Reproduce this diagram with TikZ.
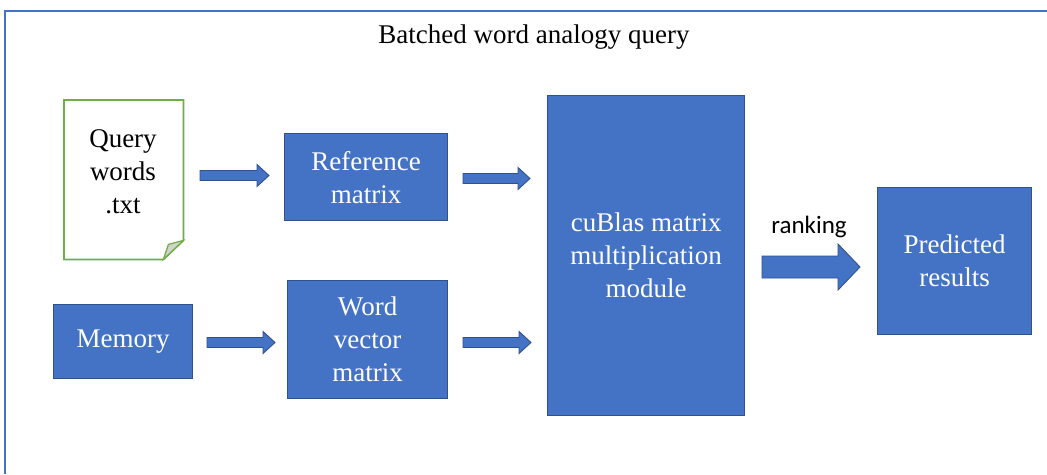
\documentclass[tikz,border=0pt]{standalone}
\usepackage{fontspec}
\setmainfont{Liberation Serif}
\newfontfamily\tnr{Liberation Serif}
\newfontfamily\calib{Carlito}
\usetikzlibrary{calc}
\definecolor{boxblue}{HTML}{4472C4}
\definecolor{boxedge}{HTML}{2F528F}
\definecolor{docgreen}{HTML}{70AD47}
\definecolor{flapgray}{HTML}{D0D3CE}
\tikzset{
  bigtext/.style={font=\tnr\fontsize{27}{33}\selectfont},
  bluebox/.style={draw=boxedge, line width=1.3pt, fill=boxblue, text=white, bigtext,
    align=center, inner sep=0pt, anchor=north west},
  blk/.style={draw=boxedge, line width=0.9pt, fill=boxblue, line join=miter},
}
% #1 start, #2 tip, #3 shaft half height, #4 head half height, #5 head length
\newcommand\blkarrow[5]{%
  \draw[blk] ($(#1)+(0,-#3)$) -- ($(#2)+(-#5,-#3)$) -- ($(#2)+(-#5,-#4)$) -- (#2)
    -- ($(#2)+(-#5,#4)$) -- ($(#2)+(-#5,#3)$) -- ($(#1)+(0,#3)$) -- cycle;}
\begin{document}
\begin{tikzpicture}[x=1pt, y=-1pt]
\useasboundingbox (0,0) rectangle (1047,474);
\fill[white] (0,0) rectangle (1047,474);
% outer frame
\draw[boxblue, line width=2pt] (4.5,474) -- (4.5,11) -- (1047,11);
\node[bigtext, anchor=center] (title) at (534,37) {Batched word analogy query};

% document
\node[minimum width=119, minimum height=159, inner sep=0pt, anchor=north west] (doc) at (64,100) {};
\draw[docgreen, line width=1.8pt, line join=miter]
  (doc.north west) -- (doc.north east) -- ($(doc.south east)+(0,-19)$)
  -- ($(doc.south east)+(-20,0)$) -- (doc.south west) -- cycle;
\draw[docgreen, line width=1.2pt, fill=flapgray]
  ($(doc.south east)+(-20,0)$) -- ($(doc.south east)+(-15,-15)$) -- ($(doc.south east)+(0,-19)$) -- cycle;
\node[bigtext, align=center] (doctxt) at (123,172) {Query\\words\\.txt};

% boxes
\node[bluebox, minimum width=163, minimum height=87] (ref) at (284,133) {Reference\\matrix};
\node[bluebox, minimum width=139, minimum height=74] (mem) at (53,304) {Memory};
\node[bluebox, minimum width=160, minimum height=118] (wvm) at (287,280) {Word\\vector\\matrix};
\node[bluebox, minimum width=197, minimum height=320] (cub) at (547,95) {cuBlas matrix\\multiplication\\module};
\node[bluebox, minimum width=154, minimum height=147] (pred) at (877,187) {Predicted\\results};

% arrow end coordinates
\coordinate (a1s) at (200,175.5);  \coordinate (a1e) at (269,175.5);
\coordinate (a2s) at (463,178.5);  \coordinate (a2e) at (530,178.5);
\coordinate (a3s) at (207,342.5);  \coordinate (a3e) at (275,342.5);
\coordinate (a4s) at (463,342.5);  \coordinate (a4e) at (531,342.5);
\coordinate (a5s) at (762,267);    \coordinate (a5e) at (860,267);

\blkarrow{a1s}{a1e}{5}{11}{12}
\blkarrow{a2s}{a2e}{5}{11}{12}
\blkarrow{a3s}{a3e}{5}{11}{12}
\blkarrow{a4s}{a4e}{5}{11}{12}
\blkarrow{a5s}{a5e}{11}{23}{22}

\node[font=\calib\fontsize{25}{29}\selectfont] (rank) at (809,227) {ranking};
\end{tikzpicture}
\end{document}
